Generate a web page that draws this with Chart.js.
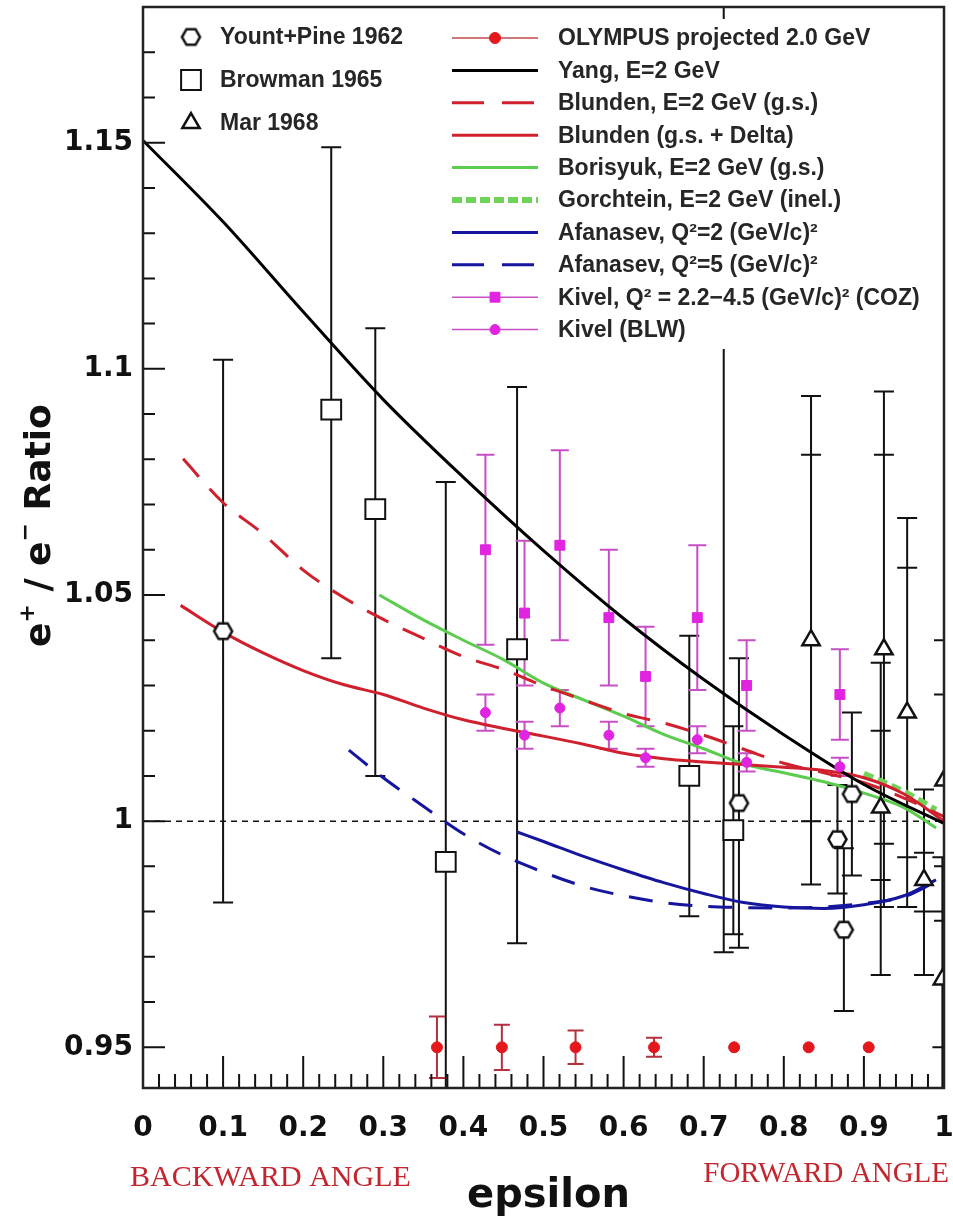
<!DOCTYPE html>
<html>
<head>
<meta charset="utf-8">
<title>e+/e- ratio vs epsilon</title>
<script src="https://cdn.jsdelivr.net/npm/chart.js@4.4.1/dist/chart.umd.min.js"></script>
<style>
  html, body { margin: 0; padding: 0; background: #fff; }
  #wrap { width: 953px; height: 1218px; }
</style>
</head>
<body>
<div id="wrap"><canvas id="chart" width="953" height="1218"></canvas></div>
<script>
// ---- Data ----

// axis ranges
const epsRange = [0, 1];
const ratioRange = [0.941, 1.18];

// Yount+Pine 1962 (open hexagons)
const ypEps = [0.100, 0.744, 0.867, 0.875, 0.885];
const ypVal = [1.042, 1.004, 0.996, 0.976, 1.006];
const ypLo  = [0.982, 0.972, 0.984, 0.958, 0.988];
const ypHi  = [1.102, 1.036, 1.008, 0.994, 1.024];

// Browman 1965 (open squares)
const brEps = [0.235, 0.290, 0.378, 0.467, 0.682, 0.737];
const brVal = [1.091, 1.069, 0.991, 1.038, 1.010, 0.998];
const brLo  = [1.036, 1.010, 0.905, 0.973, 0.979, 0.975];
const brHi  = [1.149, 1.109, 1.075, 1.096, 1.041, 1.021];

// Mar 1968 (open triangles), total and inner error bars
const marEps  = [0.834, 0.921, 0.925, 0.954, 0.975, 0.998, 1.000];
const marVal  = [1.040, 1.003, 1.038, 1.024, 0.987, 0.965, 1.009];
const marLo   = [0.986, 0.966, 0.981, 0.981, 0.966, 0.935, 0.978];
const marHi   = [1.094, 1.035, 1.095, 1.067, 1.007, 0.992, 1.040];
const marInLo = [1.000, 0.987, 0.995, 0.992, 0.980, 0.950, 0.990];
const marInHi = [1.081, 1.020, 1.081, 1.056, 0.993, 0.980, 1.028];

// bar with no visible marker (runs behind the legend)
const loneEps = [0.725];
const loneLo  = [0.971];
const loneHi  = [1.200];

// OLYMPUS projected 2.0 GeV
const olEps = [0.367, 0.448, 0.540, 0.638, 0.738, 0.831, 0.906];
const olVal = [0.950, 0.950, 0.950, 0.950, 0.950, 0.950, 0.950];
const olErr = [0.0068, 0.0050, 0.0037, 0.0021, 0, 0, 0];

// Kivel COZ (squares) and BLW (circles)
const kvEps  = [0.4275, 0.4763, 0.5204, 0.5816, 0.6274, 0.692, 0.7536, 0.870];
const kcVal  = [1.060, 1.046, 1.061, 1.045, 1.032, 1.045, 1.030, 1.028];
const kcErr  = [0.021, 0.016, 0.021, 0.015, 0.011, 0.016, 0.010, 0.010];
const kbVal  = [1.024, 1.019, 1.025, 1.019, 1.014, 1.018, 1.013, 1.012];
const kbErr  = [0.004, 0.003, 0.004, 0.003, 0.002, 0.003, 0.002, 0.002];

// theory curves
const yangEps = [0.0, 0.1, 0.2, 0.3, 0.4, 0.5, 0.6, 0.7, 0.8, 0.9, 1.0];
const yangVal = [1.1505, 1.1325, 1.1126, 1.0932, 1.0760, 1.0598, 1.0448, 1.0313, 1.0191, 1.0081, 0.9995];

const blGsEps = [0.05, 0.10, 0.15, 0.20, 0.25, 0.30, 0.35, 0.40, 0.45, 0.50, 0.55, 0.60, 0.65, 0.70, 0.75, 0.80, 0.85, 0.90, 0.95, 1.00];
const blGsVal = [1.0801, 1.0704, 1.0635, 1.0555, 1.0495, 1.0446, 1.0404, 1.0364, 1.0335, 1.0299, 1.0268, 1.0238, 1.0217, 1.0190, 1.0159, 1.0128, 1.0107, 1.0085, 1.0051, 1.0010];

const blDeEps = [0.047, 0.10, 0.15, 0.20, 0.25, 0.30, 0.35, 0.40, 0.45, 0.50, 0.55, 0.60, 0.65, 0.70, 0.75, 0.80, 0.85, 0.90, 0.95, 1.00];
const blDeVal = [1.0477, 1.0418, 1.0372, 1.0333, 1.0302, 1.0280, 1.0250, 1.0224, 1.0205, 1.0188, 1.0170, 1.0150, 1.0138, 1.0131, 1.0125, 1.0119, 1.0112, 1.0096, 1.0060, 1.0000];

const borEps = [0.295, 0.35, 0.40, 0.45, 0.50, 0.55, 0.60, 0.65, 0.70, 0.75, 0.80, 0.85, 0.90, 0.95, 0.99];
const borVal = [1.0500, 1.0445, 1.0400, 1.0357, 1.0305, 1.0268, 1.0232, 1.0192, 1.0160, 1.0126, 1.0107, 1.0087, 1.0062, 1.0030, 0.9985];

const gorEps = [0.90, 0.95, 0.99];
const gorVal = [1.0105, 1.0065, 1.0025];

const af2Eps = [0.467, 0.50, 0.55, 0.60, 0.65, 0.70, 0.75, 0.80, 0.85, 0.90, 0.95, 0.99];
const af2Val = [0.9976, 0.9955, 0.9922, 0.9892, 0.9864, 0.9840, 0.9820, 0.9810, 0.9807, 0.9815, 0.9835, 0.9870];

const af5Eps = [0.257, 0.30, 0.35, 0.40, 0.45, 0.50, 0.55, 0.60, 0.65, 0.70, 0.75, 0.80, 0.85, 0.90, 0.95, 0.99];
const af5Val = [1.0157, 1.0096, 1.0033, 0.9972, 0.9924, 0.9887, 0.9856, 0.9835, 0.9820, 0.9812, 0.9809, 0.9808, 0.9810, 0.9818, 0.9833, 0.9866];

const unityEps = [0, 1];
const unityVal = [1, 1];

// legend rows
const legendLeft = ['Yount+Pine 1962', 'Browman 1965', 'Mar 1968'];
const legendRight = [
  'OLYMPUS projected 2.0 GeV',
  'Yang, E=2 GeV',
  'Blunden, E=2 GeV (g.s.)',
  'Blunden (g.s. + Delta)',
  'Borisyuk, E=2 GeV (g.s.)',
  'Gorchtein, E=2 GeV (inel.)',
  'Afanasev, Q\u00b2=2 (GeV/c)\u00b2',
  'Afanasev, Q\u00b2=5 (GeV/c)\u00b2',
  'Kivel, Q\u00b2 = 2.2\u22124.5 (GeV/c)\u00b2 (COZ)',
  'Kivel (BLW)'
];

// ---- helpers ----
const pts = (xs, ys) => xs.map((x, i) => ({x: x, y: ys[i]}));
const minus = (v, e) => v.map((y, i) => y - e[i]);
const plus = (v, e) => v.map((y, i) => y + e[i]);

function hexMarker(r, lw) {
  const size = Math.ceil(2 * r + lw + 2);
  const c = document.createElement('canvas');
  c.width = c.height = size;
  const g = c.getContext('2d');
  const m = size / 2;
  g.beginPath();
  for (let k = 0; k < 6; k++) {
    const a = k * Math.PI / 3;
    g.lineTo(m + r * Math.cos(a), m + r * Math.sin(a));
  }
  g.closePath();
  g.fillStyle = '#fff';
  g.fill();
  g.lineWidth = lw;
  g.strokeStyle = '#111';
  g.stroke();
  return c;
}
const hexImg = hexMarker(9, 2.5);

const RED = '#d0202e';
const GREEN = '#5ccc4e';
const BLUE = '#15159e';
const MAGENTA = '#e024e0';

// error bars to draw (through the chart scales)
const errorSets = [
  {eps: loneEps, lo: loneLo, hi: loneHi, color: '#111', width: 2, cap: 10},
  {eps: ypEps, lo: ypLo, hi: ypHi, color: '#111', width: 2, cap: 10},
  {eps: brEps, lo: brLo, hi: brHi, color: '#111', width: 2, cap: 10},
  {eps: marEps, lo: marLo, hi: marHi, inLo: marInLo, inHi: marInHi, color: '#111', width: 2, cap: 10},
  {eps: kvEps, lo: minus(kcVal, kcErr), hi: plus(kcVal, kcErr), color: '#c64fc6', width: 2, cap: 9},
  {eps: kvEps, lo: minus(kbVal, kbErr), hi: plus(kbVal, kbErr), color: '#c64fc6', width: 2, cap: 9},
  {eps: olEps, lo: minus(olVal, olErr), hi: plus(olVal, olErr), color: '#b3303c', width: 2, cap: 8}
];

const curve = (label, xs, ys, color, width, dash) => ({
  label: label, data: pts(xs, ys), showLine: true, pointRadius: 0,
  borderColor: color, borderWidth: width, borderDash: dash || [],
  cubicInterpolationMode: 'monotone', fill: false
});

const datasets = [
  {label: 'Mar 1968', data: pts(marEps, marVal), pointStyle: 'triangle', pointRadius: 10,
   pointBackgroundColor: '#fff', pointBorderColor: '#111', pointBorderWidth: 2.5},
  {label: 'Yount+Pine 1962', data: pts(ypEps, ypVal), pointStyle: hexImg, pointRadius: 9},
  {label: 'Browman 1965', data: pts(brEps, brVal), pointStyle: 'rect', pointRadius: 14,
   pointBackgroundColor: '#fff', pointBorderColor: '#111', pointBorderWidth: 2},
  {label: 'OLYMPUS projected 2.0 GeV', data: pts(olEps, olVal), pointStyle: 'circle', pointRadius: 5.5,
   pointBackgroundColor: '#e3171c', pointBorderColor: '#e3171c', pointBorderWidth: 1, lineColor: '#c0484c'},
  {label: 'Kivel, Q\u00b2 = 2.2\u22124.5 (GeV/c)\u00b2 (COZ)', data: pts(kvEps, kcVal), pointStyle: 'rect', pointRadius: 7,
   pointBackgroundColor: MAGENTA, pointBorderColor: MAGENTA, pointBorderWidth: 1, lineColor: '#c64fc6'},
  {label: 'Kivel (BLW)', data: pts(kvEps, kbVal), pointStyle: 'circle', pointRadius: 5,
   pointBackgroundColor: MAGENTA, pointBorderColor: MAGENTA, pointBorderWidth: 1, lineColor: '#c64fc6'},
  curve('Yang, E=2 GeV', yangEps, yangVal, '#000', 3),
  curve('Blunden (g.s. + Delta)', blDeEps, blDeVal, RED, 3),
  curve('Blunden, E=2 GeV (g.s.)', blGsEps, blGsVal, RED, 3, [24, 16]),
  curve('Borisyuk, E=2 GeV (g.s.)', borEps, borVal, GREEN, 3),
  curve('Gorchtein, E=2 GeV (inel.)', gorEps, gorVal, '#6fd35a', 6, [10, 5]),
  curve('Afanasev, Q\u00b2=2 (GeV/c)\u00b2', af2Eps, af2Val, BLUE, 3),
  curve('Afanasev, Q\u00b2=5 (GeV/c)\u00b2', af5Eps, af5Val, BLUE, 3, [24, 16]),
  curve('unity', unityEps, unityVal, '#111', 1.5, [6, 5])
];

// ---- plugins ----
const errorBars = {
  id: 'errorBars',
  beforeDatasetsDraw(chart) {
    const {ctx, chartArea: a, scales: {x, y}} = chart;
    ctx.save();
    ctx.beginPath();
    ctx.rect(a.left, a.top, a.width, a.height);
    ctx.clip();
    errorSets.forEach(s => {
      ctx.strokeStyle = s.color;
      ctx.lineWidth = s.width;
      ctx.beginPath();
      s.eps.forEach((e, i) => {
        if (s.hi[i] - s.lo[i] < 1e-6) return;
        const px = x.getPixelForValue(e);
        const lo = y.getPixelForValue(s.lo[i]);
        const hi = y.getPixelForValue(s.hi[i]);
        ctx.moveTo(px, lo); ctx.lineTo(px, hi);
        ctx.moveTo(px - s.cap, lo); ctx.lineTo(px + s.cap, lo);
        ctx.moveTo(px - s.cap, hi); ctx.lineTo(px + s.cap, hi);
        if (s.inLo) {
          const il = y.getPixelForValue(s.inLo[i]);
          const ih = y.getPixelForValue(s.inHi[i]);
          ctx.moveTo(px - s.cap, il); ctx.lineTo(px + s.cap, il);
          ctx.moveTo(px - s.cap, ih); ctx.lineTo(px + s.cap, ih);
        }
      });
      ctx.stroke();
    });
    ctx.restore();
  }
};

function drawMarker(ctx, ds, x, y) {
  const st = ds.pointStyle, r = ds.pointRadius;
  if (st instanceof HTMLCanvasElement) {
    ctx.drawImage(st, x - st.width / 2, y - st.height / 2);
    return;
  }
  ctx.fillStyle = ds.pointBackgroundColor;
  ctx.strokeStyle = ds.pointBorderColor;
  ctx.lineWidth = ds.pointBorderWidth;
  ctx.setLineDash([]);
  ctx.beginPath();
  if (st === 'rect') {
    const h = r * Math.SQRT1_2;
    ctx.rect(x - h, y - h, 2 * h, 2 * h);
  } else if (st === 'triangle') {
    for (let k = 0; k < 3; k++) {
      const a = k * 2 * Math.PI / 3;
      ctx.lineTo(x + Math.sin(a) * r, y - Math.cos(a) * r);
    }
    ctx.closePath();
  } else {
    ctx.arc(x, y, r, 0, 2 * Math.PI);
  }
  ctx.fill();
  ctx.stroke();
}

const frameAndLegend = {
  id: 'frameAndLegend',
  afterDatasetsDraw(chart) {
    const {ctx, chartArea: a, scales: {x, y}} = chart;
    ctx.save();
    // inward tick marks
    ctx.strokeStyle = '#111';
    ctx.lineWidth = 2;
    ctx.beginPath();
    y.ticks.forEach(t => {
      const py = y.getPixelForValue(t.value);
      ctx.moveTo(a.left, py);
      ctx.lineTo(a.left + (t.label ? 22 : 12), py);
    });
    x.ticks.forEach(t => {
      const px = x.getPixelForValue(t.value);
      ctx.moveTo(px, a.bottom);
      ctx.lineTo(px, a.bottom - (t.label ? 32 : 14));
    });
    ctx.stroke();
    ctx.lineWidth = 2.5;
    ctx.strokeStyle = '#222';
    ctx.strokeRect(a.left, a.top, a.right - a.left, a.bottom - a.top);

    // legend boxes
    ctx.fillStyle = '#fff';
    ctx.fillRect(a.left + 25, a.top + 12, 255, 124);
    ctx.fillRect(a.left + 303, a.top + 12, 492, 330);

    const byLabel = l => chart.data.datasets.find(d => d.label === l);
    ctx.font = 'bold 23px "Liberation Sans", Arial, sans-serif';
    ctx.textBaseline = 'middle';
    ctx.textAlign = 'left';

    legendLeft.forEach((l, i) => {
      const ds = byLabel(l);
      const ly = a.top + 30 + i * 43;
      drawMarker(ctx, ds, a.left + 48, ly);
      ctx.fillStyle = '#262626';
      ctx.fillText(l, a.left + 77, ly + 1);
    });

    const x0 = a.left + 309, x1 = a.left + 395;
    legendRight.forEach((l, i) => {
      const ds = byLabel(l);
      const ly = a.top + 31 + i * 32.4;
      ctx.save();
      if (ds.showLine) {
        ctx.strokeStyle = ds.borderColor;
        ctx.lineWidth = ds.borderWidth;
        ctx.setLineDash(ds.borderDash.length ? (ds.borderWidth > 4 ? [10, 4] : [32, 18]) : []);
        ctx.beginPath();
        ctx.moveTo(x0, ly); ctx.lineTo(x1, ly);
        ctx.stroke();
      } else {
        ctx.strokeStyle = ds.lineColor;
        ctx.lineWidth = 1.5;
        ctx.beginPath();
        ctx.moveTo(x0, ly); ctx.lineTo(x1, ly);
        ctx.stroke();
        drawMarker(ctx, ds, (x0 + x1) / 2, ly);
      }
      ctx.restore();
      ctx.fillStyle = '#262626';
      ctx.fillText(l, a.left + 415, ly + 1);
    });
    ctx.restore();
  },
  afterDraw(chart) {
    const {ctx, chartArea: a} = chart;
    ctx.save();
    // x title
    ctx.fillStyle = '#111';
    ctx.font = 'bold 40px "DejaVu Sans", sans-serif';
    ctx.textAlign = 'center';
    ctx.textBaseline = 'alphabetic';
    ctx.fillText('epsilon', (a.left + a.right) / 2 + 5, 1207);

    // y title with superscripts
    ctx.save();
    ctx.translate(50, 647);
    ctx.rotate(-Math.PI / 2);
    ctx.textAlign = 'left';
    const big = 'bold 36px "DejaVu Sans", sans-serif';
    const small = 'bold 22px "DejaVu Sans", sans-serif';
    const parts = [['e', big, 0], ['+', small, -16], [' / e', big, 0], ['\u2212', small, -18], [' Ratio', big, 0]];
    let cx = 0;
    parts.forEach(p => {
      ctx.font = p[1];
      ctx.fillText(p[0], cx, p[2]);
      cx += ctx.measureText(p[0]).width;
    });
    ctx.restore();

    // angle notes
    ctx.fillStyle = '#c3262e';
    ctx.font = '30px "Liberation Serif", "Times New Roman", serif';
    ctx.textAlign = 'left';
    ctx.fillText('BACKWARD ANGLE', 130, 1186);
    ctx.font = '29px "Liberation Serif", "Times New Roman", serif';
    ctx.textAlign = 'right';
    ctx.fillText('FORWARD ANGLE', 949, 1182);
    ctx.restore();
  }
};

// ---- chart ----
const tickFont = {family: '"DejaVu Sans", sans-serif', weight: 'bold', size: 28};
const near = (v, step) => Math.abs(v / step - Math.round(v / step)) < 1e-6;
const noPad = s => { s.paddingLeft = 0; s.paddingRight = 0; s.paddingTop = 0; s.paddingBottom = 0; };

const config = {
  type: 'scatter',
  data: {datasets: datasets},
  options: {
    responsive: false,
    animation: false,
    devicePixelRatio: 1,
    events: [],
    layout: {autoPadding: false, padding: {top: 7, right: 9, left: 0, bottom: 0}},
    plugins: {legend: {display: false}, tooltip: {enabled: false}},
    scales: {
      x: {
        type: 'linear', min: epsRange[0], max: epsRange[1],
        grid: {display: false, drawTicks: false}, border: {display: false},
        ticks: {
          stepSize: 0.02, autoSkip: false, maxRotation: 0, includeBounds: false,
          padding: 24, color: '#111', font: tickFont,
          callback: v => near(v, 0.1) ? String(+v.toFixed(1)) : ''
        },
        afterFit: s => { s.height = 130; noPad(s); }
      },
      y: {
        type: 'linear', min: ratioRange[0], max: ratioRange[1],
        grid: {display: false, drawTicks: false}, border: {display: false},
        ticks: {
          stepSize: 0.01, autoSkip: false, includeBounds: false,
          padding: 10, color: '#111', font: tickFont,
          callback: v => near(v, 0.05) ? String(+v.toFixed(2)) : ''
        },
        afterFit: s => { s.width = 143; noPad(s); }
      }
    }
  },
  plugins: [errorBars, frameAndLegend]
};

const ratioChart = new Chart(document.getElementById('chart'), config);
</script>
</body>
</html>
